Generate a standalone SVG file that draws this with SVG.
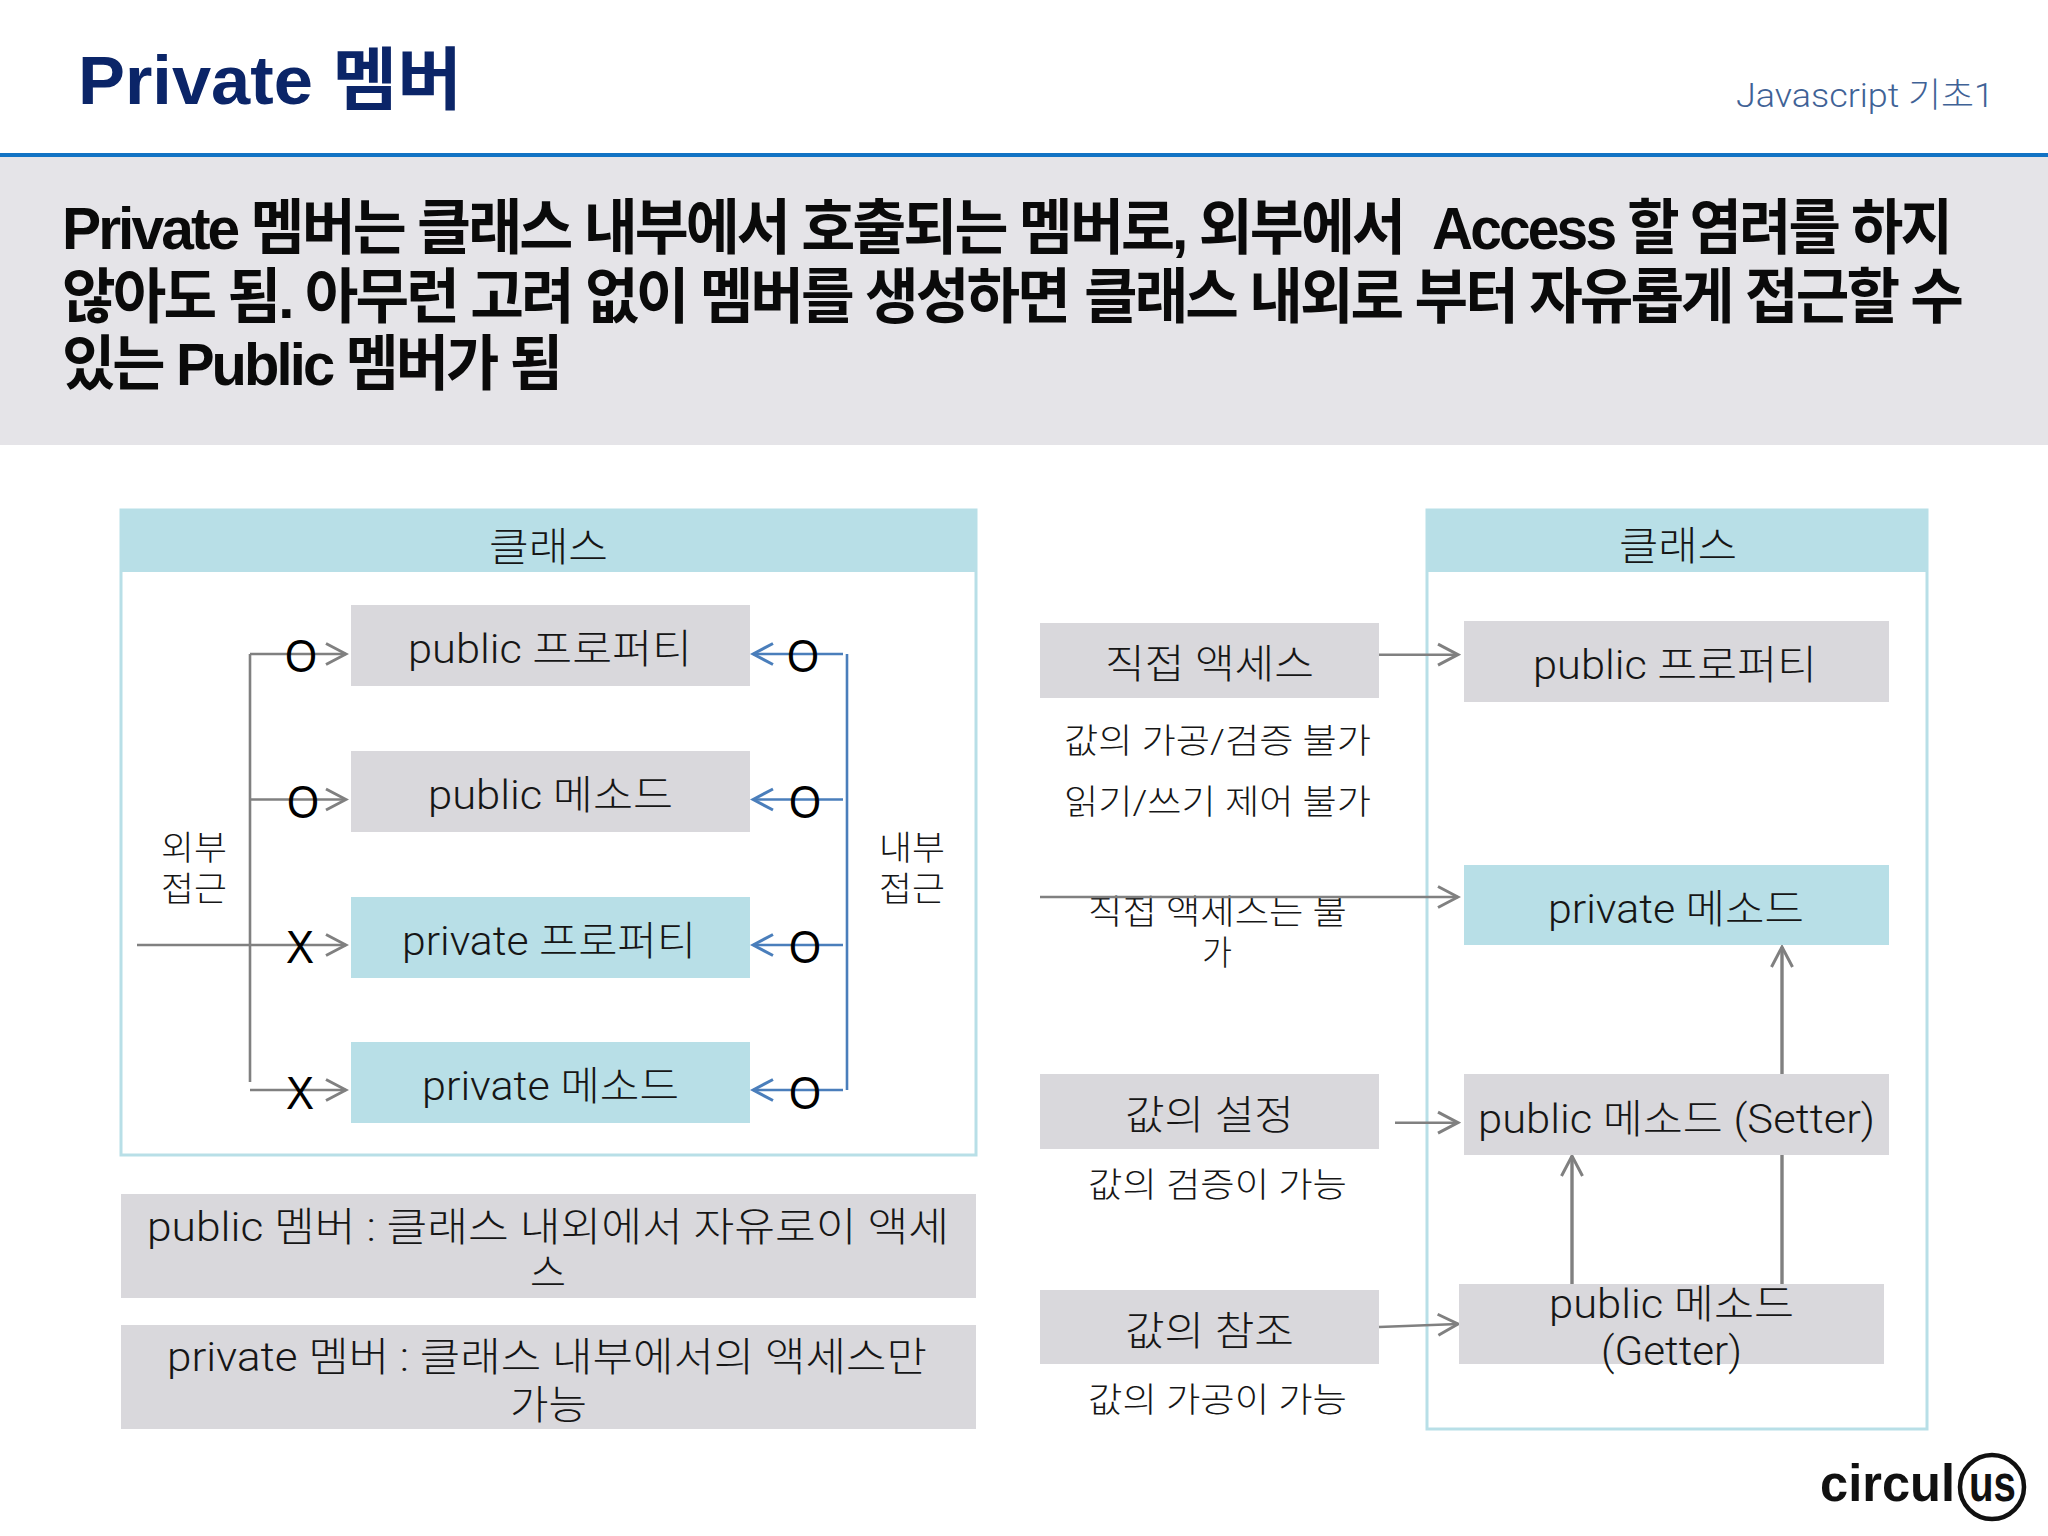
<svg xmlns="http://www.w3.org/2000/svg" width="2048" height="1536" viewBox="0 0 2048 1536">
<style>
text{font-family:"Roboto","Noto Sans CJK KR",sans-serif;font-weight:300;font-size:40px;fill:#161616;white-space:pre}
.title{font-family:"Liberation Sans","Noto Sans CJK KR",sans-serif;font-weight:700;font-size:68px;fill:#0b2568}
.sub{font-size:34px;fill:#3f6296}
.lead{font-family:"Liberation Sans","Noto Sans CJK KR",sans-serif;font-weight:700;font-size:60px;fill:#0a0a0a;letter-spacing:-3px}
.cap{font-size:34px}
.mark{font-family:"Liberation Sans",sans-serif;font-weight:400;font-size:46px;fill:#000}
.logo{font-family:"Liberation Sans",sans-serif;font-weight:700;font-size:52px;fill:#111}
.gray{fill:#d9d8dc}
.teal{fill:#b8dfe7}
.frame{fill:#fff;stroke:#b8dfe7;stroke-width:3}
.ln{fill:none;stroke:#808080;stroke-width:2.6}
.arr{marker-end:url(#ag)}
.bl{fill:none;stroke:#4a7ebb;stroke-width:2.6}
.arb{marker-end:url(#ab)}
</style>
<defs>
<marker id="ag" markerUnits="userSpaceOnUse" markerWidth="26" markerHeight="28" viewBox="-23 -14 26 28" refX="0" refY="0" orient="auto"><path d="M-20,-10.5 L0,0 L-20,10.5" fill="none" stroke="#808080" stroke-width="3"/></marker>
<marker id="ab" markerUnits="userSpaceOnUse" markerWidth="26" markerHeight="28" viewBox="-23 -14 26 28" refX="0" refY="0" orient="auto"><path d="M-20,-10.5 L0,0 L-20,10.5" fill="none" stroke="#4a7ebb" stroke-width="3"/></marker>
</defs>
<rect width="2048" height="1536" fill="#fff"/>
<g id="header">
<text class="title" x="78" y="104" textLength="384" lengthAdjust="spacingAndGlyphs">Private 멤버</text>
<text class="sub" x="1736" y="107" textLength="258" lengthAdjust="spacingAndGlyphs">Javascript 기초1</text>
<rect x="0" y="157" width="2048" height="288" fill="#e5e4e8"/>
<rect x="0" y="153" width="2048" height="4" fill="#1273c4"/>
<text class="lead" x="62" y="249" textLength="1341" lengthAdjust="spacingAndGlyphs">Private 멤버는 클래스 내부에서 호출되는 멤버로, 외부에서</text>
<text class="lead" x="1432" y="249" textLength="518" lengthAdjust="spacingAndGlyphs">Access 할 염려를 하지</text>
<text class="lead" x="62" y="318" textLength="1006" lengthAdjust="spacingAndGlyphs">않아도 됨. 아무런 고려 없이 멤버를 생성하면</text>
<text class="lead" x="1084" y="318" textLength="877" lengthAdjust="spacingAndGlyphs">클래스 내외로 부터 자유롭게 접근할 수</text>
<text class="lead" x="62" y="385" textLength="498" lengthAdjust="spacingAndGlyphs">있는 Public 멤버가 됨</text>
</g>
<g id="class-left">
<rect class="frame" x="121" y="510" width="855" height="645"/>
<rect class="teal" x="120" y="509" width="857" height="63"/>
<text x="489" y="561" textLength="119" lengthAdjust="spacingAndGlyphs">클래스</text>
</g>
<g id="class-right">
<rect class="frame" x="1427" y="510" width="500" height="919"/>
<rect class="teal" x="1426" y="509" width="502" height="63"/>
<text x="1619" y="560" textLength="118" lengthAdjust="spacingAndGlyphs">클래스</text>
</g>
<g id="captions">
<text class="cap" x="161" y="860" textLength="66" lengthAdjust="spacingAndGlyphs">외부</text>
<text class="cap" x="161" y="901" textLength="66" lengthAdjust="spacingAndGlyphs">접근</text>
<text class="cap" x="879" y="860" textLength="66" lengthAdjust="spacingAndGlyphs">내부</text>
<text class="cap" x="879" y="901" textLength="66" lengthAdjust="spacingAndGlyphs">접근</text>
<text class="cap" x="1064" y="753" textLength="307" lengthAdjust="spacingAndGlyphs">값의 가공/검증 불가</text>
<text class="cap" x="1064" y="814" textLength="307" lengthAdjust="spacingAndGlyphs">읽기/쓰기 제어 불가</text>
<text class="cap" x="1088" y="924" textLength="259" lengthAdjust="spacingAndGlyphs">직접 액세스는 불</text>
<text class="cap" x="1202" y="965" textLength="30" lengthAdjust="spacingAndGlyphs">가</text>
<text class="cap" x="1088" y="1197" textLength="259" lengthAdjust="spacingAndGlyphs">값의 검증이 가능</text>
<text class="cap" x="1088" y="1412" textLength="259" lengthAdjust="spacingAndGlyphs">값의 가공이 가능</text>
</g>
<g id="connectors">
<path class="ln" d="M250,654V1082"/>
<path class="ln arr" d="M250,654H346"/>
<path class="ln arr" d="M250,799.5H346"/>
<path class="ln arr" d="M137,945H346"/>
<path class="ln arr" d="M250,1090H346"/>
<path class="bl" d="M847,654V1090"/>
<path class="bl arb" d="M843,654H753"/>
<path class="bl arb" d="M843,799.5H753"/>
<path class="bl arb" d="M843,945H753"/>
<path class="bl arb" d="M843,1090H753"/>
<path class="ln arr" d="M1379,654.7H1458"/>
<path class="ln arr" d="M1040,897H1458"/>
<path class="ln arr" d="M1395,1122.7H1458"/>
<path class="ln arr" d="M1379,1327L1458,1324"/>
<path class="ln arr" style="stroke-width:3.4" d="M1782,1284V947"/>
<path class="ln arr" style="stroke-width:3.4" d="M1572,1284V1156"/>
</g>
<g id="left-public-prop"><rect class="gray" x="351" y="605" width="399" height="81"/><text x="408" y="663" textLength="284" lengthAdjust="spacingAndGlyphs">public 프로퍼티</text></g>
<g id="left-public-method"><rect class="gray" x="351" y="751" width="399" height="81"/><text x="428" y="809" textLength="245" lengthAdjust="spacingAndGlyphs">public 메소드</text></g>
<g id="left-private-prop"><rect class="teal" x="351" y="897" width="399" height="81"/><text x="402" y="955" textLength="294" lengthAdjust="spacingAndGlyphs">private 프로퍼티</text></g>
<g id="left-private-method"><rect class="teal" x="351" y="1042" width="399" height="81"/><text x="422" y="1100" textLength="257" lengthAdjust="spacingAndGlyphs">private 메소드</text></g>
<g id="marks">
<text class="mark" x="285" y="672" textLength="32" lengthAdjust="spacingAndGlyphs">O</text>
<text class="mark" x="287" y="818" textLength="32" lengthAdjust="spacingAndGlyphs">O</text>
<text class="mark" x="286" y="963" textLength="28" lengthAdjust="spacingAndGlyphs">X</text>
<text class="mark" x="286" y="1109" textLength="28" lengthAdjust="spacingAndGlyphs">X</text>
<text class="mark" x="787" y="672" textLength="32" lengthAdjust="spacingAndGlyphs">O</text>
<text class="mark" x="789" y="818" textLength="32" lengthAdjust="spacingAndGlyphs">O</text>
<text class="mark" x="789" y="963" textLength="32" lengthAdjust="spacingAndGlyphs">O</text>
<text class="mark" x="789" y="1109" textLength="32" lengthAdjust="spacingAndGlyphs">O</text>
</g>
<g id="note-public"><rect class="gray" x="121" y="1194" width="855" height="104"/><text x="147" y="1241" textLength="802" lengthAdjust="spacingAndGlyphs">public 멤버 : 클래스 내외에서 자유로이 액세</text><text x="530" y="1287" textLength="36" lengthAdjust="spacingAndGlyphs">스</text></g>
<g id="note-private"><rect class="gray" x="121" y="1325" width="855" height="104"/><text x="167" y="1371" textLength="760" lengthAdjust="spacingAndGlyphs">private 멤버 : 클래스 내부에서의 액세스만</text><text x="510" y="1419" textLength="77" lengthAdjust="spacingAndGlyphs">가능</text></g>
<g id="direct-access"><rect class="gray" x="1040" y="623" width="339" height="75"/><text x="1105" y="678" textLength="209" lengthAdjust="spacingAndGlyphs">직접 액세스</text></g>
<g id="set-value"><rect class="gray" x="1040" y="1074" width="339" height="75"/><text x="1125" y="1129" textLength="169" lengthAdjust="spacingAndGlyphs">값의 설정</text></g>
<g id="get-value"><rect class="gray" x="1040" y="1290" width="339" height="74"/><text x="1125" y="1345" textLength="169" lengthAdjust="spacingAndGlyphs">값의 참조</text></g>
<g id="right-public-prop"><rect class="gray" x="1464" y="621" width="425" height="81"/><text x="1533" y="679" textLength="284" lengthAdjust="spacingAndGlyphs">public 프로퍼티</text></g>
<g id="right-private-method"><rect class="teal" x="1464" y="865" width="425" height="80"/><text x="1548" y="923" textLength="256" lengthAdjust="spacingAndGlyphs">private 메소드</text></g>
<g id="right-setter"><rect class="gray" x="1464" y="1074" width="425" height="81"/><text x="1478" y="1133" textLength="397" lengthAdjust="spacingAndGlyphs">public 메소드 (Setter)</text></g>
<g id="right-getter"><rect class="gray" x="1459" y="1284" width="425" height="80"/><text x="1549" y="1318" textLength="245" lengthAdjust="spacingAndGlyphs">public 메소드</text><text x="1601" y="1365" textLength="141" lengthAdjust="spacingAndGlyphs">(Getter)</text></g>
<g id="logo">
<text class="logo" x="1820" y="1501" textLength="135" lengthAdjust="spacingAndGlyphs">circul</text>
<text class="logo" x="1969" y="1501" textLength="47" lengthAdjust="spacingAndGlyphs">us</text>
<circle cx="1992" cy="1487" r="32" fill="none" stroke="#111" stroke-width="4.5"/>
</g>
</svg>
